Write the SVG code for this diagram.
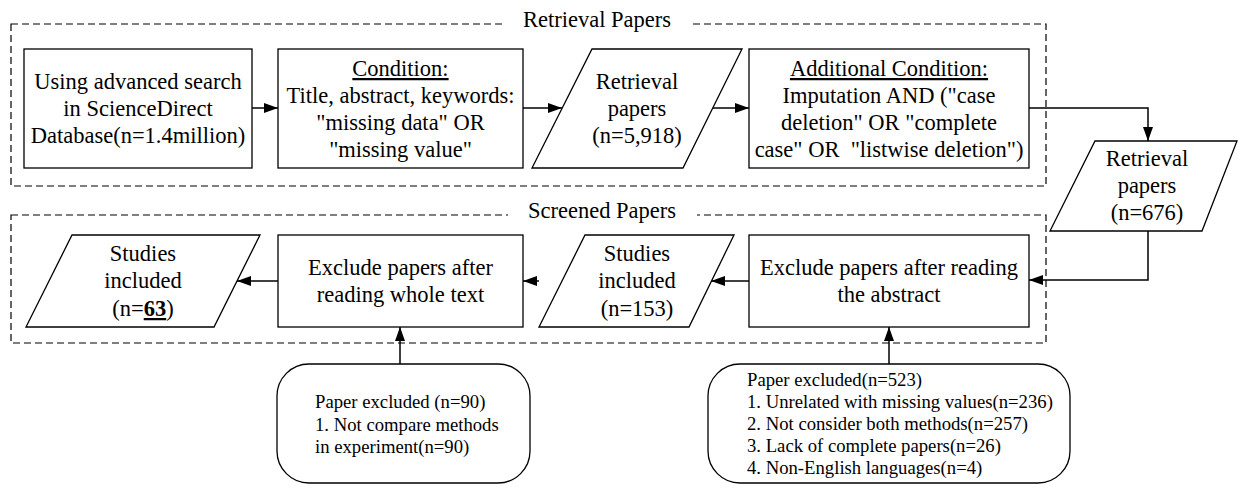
<svg xmlns="http://www.w3.org/2000/svg" width="1239" height="488" viewBox="0 0 1239 488">
<defs>
<style>
text{font-family:"Liberation Serif","Times New Roman",serif;fill:#000}
.t{font-size:22.5px;text-anchor:middle}
.s{font-size:18.7px}
.n{fill:#fff;stroke:#000;stroke-width:1.3}
.d{fill:none;stroke:#000;stroke-width:1.2;stroke-dasharray:7,4}
.c{fill:none;stroke:#000;stroke-width:1.5}
.u{text-decoration:underline}
</style>
<marker id="a" viewBox="0 0 14 10" refX="14" refY="5" markerWidth="14" markerHeight="10" markerUnits="userSpaceOnUse" orient="auto">
<path d="M0,0 L14,5 L0,10 Z" fill="#000"/>
</marker>
</defs>
<rect width="1239" height="488" fill="#fff"/>
<g id="group-retrieval">
<rect class="d" x="11" y="24" width="1035" height="162"/>
<rect x="502" y="12" width="188" height="20" fill="#fff"/>
<text class="t" x="597" y="27">Retrieval Papers</text>
</g>
<g id="group-screened">
<rect class="d" x="11" y="215" width="1035" height="128"/>
<rect x="508" y="203" width="189" height="20" fill="#fff"/>
<text class="t" x="602" y="218">Screened Papers</text>
</g>
<g id="connectors">
<path class="c" d="M252,108 L278,108" marker-end="url(#a)"/>
<path class="c" d="M523,108 L562,108" marker-end="url(#a)"/>
<path class="c" d="M712,108 L749,108" marker-end="url(#a)"/>
<path class="c" d="M1029,108 L1148,108 L1148,141" marker-end="url(#a)"/>
<path class="c" d="M1148,231 L1148,280 L1029,280" marker-end="url(#a)"/>
<path class="c" d="M749,281 L711,281" marker-end="url(#a)"/>
<path class="c" d="M539,281 L523,281" marker-end="url(#a)"/>
<path class="c" d="M278,281 L237,281" marker-end="url(#a)"/>
<path class="c" d="M400,364 L400,327" marker-end="url(#a)"/>
<path class="c" d="M889,364 L889,327" marker-end="url(#a)"/>
</g>
<g id="n1">
<rect class="n" x="24" y="49" width="228" height="119"/>
<text class="t" x="138" y="89">Using advanced search</text>
<text class="t" x="138" y="116">in ScienceDirect</text>
<text class="t" x="138" y="143">Database(n=1.4million)</text>
</g>
<g id="n2">
<rect class="n" x="278" y="49" width="245" height="119"/>
<text class="t u" x="400.5" y="76">Condition:</text>
<text class="t" x="400.5" y="103">Title, abstract, keywords:</text>
<text class="t" x="400.5" y="130">"missing data" OR</text>
<text class="t" x="400.5" y="157">"missing value"</text>
</g>
<g id="n3">
<polygon class="n" points="592,49 742,49 683,168 532,168"/>
<text class="t" x="637" y="89">Retrieval</text>
<text class="t" x="637" y="116">papers</text>
<text class="t" x="637" y="143">(n=5,918)</text>
</g>
<g id="n4">
<rect class="n" x="749" y="49" width="280" height="119"/>
<text class="t u" x="889" y="76">Additional Condition:</text>
<text class="t" x="889" y="103">Imputation AND ("case</text>
<text class="t" x="889" y="130">deletion" OR "complete</text>
<text class="t" x="889" y="157" xml:space="preserve">case" OR  "listwise deletion")</text>
</g>
<g id="n5">
<polygon class="n" points="1095,141 1237,141 1202,231 1050,231"/>
<text class="t" x="1147" y="166">Retrieval</text>
<text class="t" x="1147" y="193">papers</text>
<text class="t" x="1147" y="220">(n=676)</text>
</g>
<g id="n6">
<rect class="n" x="749" y="235" width="280" height="92"/>
<text class="t" x="889" y="275">Exclude papers after reading</text>
<text class="t" x="889" y="302">the abstract</text>
</g>
<g id="n7">
<polygon class="n" points="585,235 734,235 689,327 539,327"/>
<text class="t" x="637" y="261">Studies</text>
<text class="t" x="637" y="288">included</text>
<text class="t" x="637" y="316">(n=153)</text>
</g>
<g id="n8">
<rect class="n" x="278" y="235" width="245" height="92"/>
<text class="t" x="400.5" y="275">Exclude papers after</text>
<text class="t" x="400.5" y="302">reading whole text</text>
</g>
<g id="n9">
<polygon class="n" points="72,235 260,235 214,327 26,327"/>
<text class="t" x="143" y="261">Studies</text>
<text class="t" x="143" y="288">included</text>
<text class="t" x="143" y="316">(n=<tspan font-weight="bold" class="u">63</tspan>)</text>
</g>
<g id="n10">
<rect class="n" x="277" y="364" width="253" height="119" rx="32" ry="32"/>
<text class="s" x="315" y="408">Paper excluded (n=90)</text>
<text class="s" x="315" y="431">1. Not compare methods</text>
<text class="s" x="315" y="453">in experiment(n=90)</text>
</g>
<g id="n11">
<rect class="n" x="708" y="364" width="362" height="119" rx="32" ry="32"/>
<text class="s" x="747" y="386">Paper excluded(n=523)</text>
<text class="s" x="747" y="408">1. Unrelated with missing values(n=236)</text>
<text class="s" x="747" y="430">2. Not consider both methods(n=257)</text>
<text class="s" x="747" y="452">3. Lack of complete papers(n=26)</text>
<text class="s" x="747" y="474">4. Non-English languages(n=4)</text>
</g>
</svg>
